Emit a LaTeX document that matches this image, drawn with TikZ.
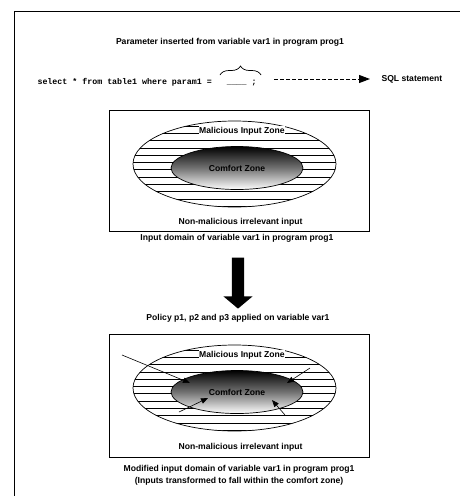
\documentclass[tikz,border=0pt]{standalone}
\usepackage{fontspec}
\setmainfont{Liberation Sans}
\setmonofont{Liberation Mono}
\usepackage{tikz}
\usetikzlibrary{arrows.meta,shapes.geometric,shapes.arrows,decorations.pathreplacing}
\newcommand{\capfont}{\bfseries\fontsize{8.6pt}{12pt}\selectfont}
\newcommand{\sqlfont}{\ttfamily\bfseries\fontsize{8.3pt}{10pt}\selectfont}

\begin{document}
\begin{tikzpicture}[x=1pt,y=-1pt,>={Triangle[length=7pt,width=5.5pt]},font=\capfont,
  dombox/.style={draw,line width=0.8pt,minimum width=260pt,inner sep=0pt},
  zone/.style={ellipse,draw,line width=0.7pt,minimum width=203pt,minimum height=86pt,inner sep=0pt},
  comfort/.style={ellipse,draw,line width=0.7pt,top color=black,bottom color=white,middle color=black!55,
    minimum width=132pt,minimum height=43pt,inner sep=0pt},
  malbox/.style={fill=white,inner sep=0.6pt},
  hatch/.style={line width=0.8pt}]
  \useasboundingbox (0,0) rectangle (460,496);
  % frame round the figure (cut at right and bottom)
  \draw[line width=0.8pt] (460,11) -- (14,11) -- (14,496);
  % query with the inserted parameter
  \node (param) at (230,42) {Parameter inserted from variable var1 in program prog1};
  \draw[line width=0.7pt,decorate,decoration={brace,amplitude=9pt}] (220,75) -- (261,75);
  \node[font=\sqlfont,anchor=west] (sql) at (34,82) {select * from table1 where param1 =~~~\_\_\_\_~;};
  \node[anchor=west] (sqlstmt) at (378,79) {SQL statement};
  \draw[line width=1pt,dash pattern=on 4pt off 2pt,-{Triangle[length=11pt,width=8pt]},
    shorten <=14pt,shorten >=8pt] (sql.east |- sqlstmt.west) -- (sqlstmt.west);
  % input domain before the policies
  \node[dombox,minimum height=121pt] (dom1) at (239,170.5) {};
  \begin{scope}
    \clip (234.5,164) ellipse [x radius=101.5pt,y radius=43pt];
    \foreach \y in {126,133.3,...,207} \draw[hatch] (120,\y) -- (350,\y);
  \end{scope}
  \node[zone] (zone1) at (234.5,164) {};
  \node[comfort] (cz1) at (237,168) {Comfort Zone};
  \node[malbox] (mal1) at (242,131) {Malicious Input Zone};
  \node (nonmal1) at (240.5,222) {Non-malicious irrelevant input};
  \node (cap1) at (237,238) {Input domain of variable var1 in program prog1};
  % policies applied
  \node[single arrow,fill=black,draw=none,rotate=-90,minimum height=51pt,inner sep=6pt,
    single arrow head extend=8.5pt,single arrow tip angle=100] (flow) at (238,280.5) {};
  \node (policy) at (238,318) {Policy p1, p2 and p3 applied on variable var1};
  % input domain after the policies
  \node[dombox,minimum height=123pt] (dom2) at (239,395.5) {};
  \begin{scope}
    \clip (234.5,388) ellipse [x radius=101.5pt,y radius=43pt];
    \foreach \y in {350,357.3,...,431} \draw[hatch] (120,\y) -- (350,\y);
  \end{scope}
  \node[zone] (zone2) at (234.5,388) {};
  \node[comfort] (cz2) at (237,392) {Comfort Zone};
  \node[malbox] (mal2) at (242,355) {Malicious Input Zone};
  \node (nonmal2) at (240.5,447) {Non-malicious irrelevant input};
  \node[align=center] (cap2) at (239,475) {Modified input domain of variable var1 in program prog1\\
    (Inputs transformed to fall within the comfort zone)};
  % inputs pushed into the comfort zone
  \coordinate (t1) at (122,355); \coordinate (h1) at (190,383);
  \coordinate (t2) at (310,368); \coordinate (h2) at (287,383);
  \coordinate (t3) at (179,412); \coordinate (h3) at (208,398);
  \coordinate (t4) at (285,415); \coordinate (h4) at (272,400);
  \draw[->,line width=0.6pt] (t1) -- (h1);
  \draw[->,line width=0.6pt] (t2) -- (h2);
  \draw[->,line width=0.6pt] (t3) -- (h3);
  \draw[->,line width=0.6pt] (t4) -- (h4);
\end{tikzpicture}
\end{document}
